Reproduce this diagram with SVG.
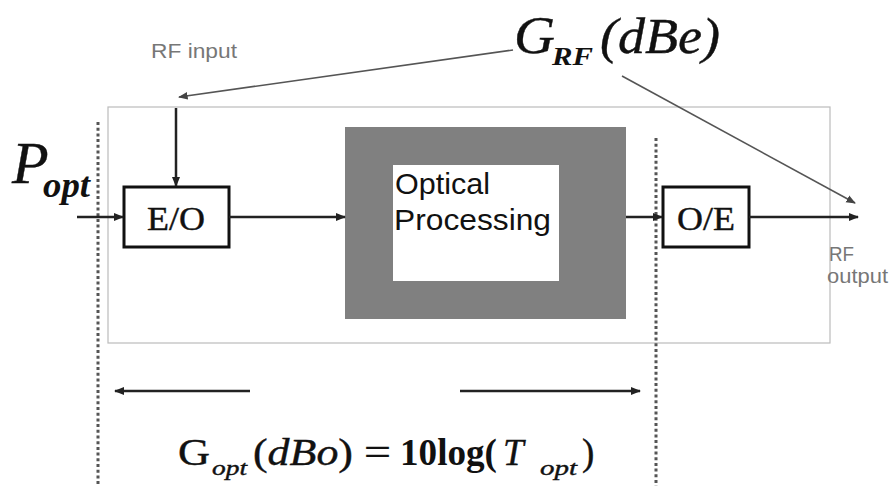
<svg xmlns="http://www.w3.org/2000/svg" width="891" height="486" viewBox="0 0 891 486">
  <style>
    .serif { font-family: "Liberation Serif", "Times New Roman", serif; fill: #111; stroke: #111; stroke-width: 0.4; }
    .serif.b { stroke: none; }
    .sans { font-family: "Liberation Sans", Arial, sans-serif; }
    .note { font-family: "Liberation Sans", Arial, sans-serif; fill: #777; font-size: 20px; }
    .box { fill: #fff; stroke: #111; stroke-width: 3; }
    .wire { fill: none; stroke: #222; stroke-width: 2.5; }
    .thin { fill: none; stroke: #555; stroke-width: 1.6; }
    .dots { fill: none; stroke: #555; stroke-width: 3; stroke-dasharray: 3 2.7; }
  </style>
  <defs>
    <marker id="head" viewBox="0 0 10 10" refX="9" refY="5" markerWidth="4" markerHeight="4" orient="auto" markerUnits="strokeWidth">
      <path d="M0,1 L10,5 L0,9 Z" fill="#222"/>
    </marker>
    <marker id="headThin" viewBox="0 0 10 10" refX="9" refY="5" markerWidth="6" markerHeight="6" orient="auto" markerUnits="strokeWidth">
      <path d="M0,1 L10,5 L0,9 Z" fill="#444"/>
    </marker>
  </defs>

  <rect width="891" height="486" fill="#fff"/>

  <!-- system boundary -->
  <rect id="boundary" x="108" y="107" width="722" height="236" fill="none" stroke="#bbb" stroke-width="1.2"/>

  <!-- optical section limits -->
  <g id="limits">
    <line class="dots" x1="98" y1="122" x2="98" y2="486"/>
    <line class="dots" x1="656" y1="138" x2="656" y2="486"/>
  </g>

  <g id="optical-processing">
    <rect x="345" y="127" width="281" height="192" fill="#808080"/>
    <rect x="393" y="165" width="166" height="116" fill="#fff"/>
    <text class="sans" x="395" y="194" font-size="30" fill="#111" textLength="95" lengthAdjust="spacingAndGlyphs">Optical</text>
    <text class="sans" x="394" y="230" font-size="30" fill="#111" textLength="157" lengthAdjust="spacingAndGlyphs">Processing</text>
  </g>

  <g id="eo">
    <rect class="box" x="124" y="187" width="105" height="60"/>
    <text class="serif" x="147" y="230" font-size="33" textLength="58" lengthAdjust="spacingAndGlyphs">E/O</text>
  </g>

  <g id="oe">
    <rect class="box" x="663" y="187" width="86" height="60"/>
    <text class="serif" x="677" y="230" font-size="33" textLength="58" lengthAdjust="spacingAndGlyphs">O/E</text>
  </g>

  <g id="connectors">
    <line class="wire" x1="77" y1="217" x2="123" y2="217" marker-end="url(#head)"/>
    <line class="wire" x1="229" y1="217" x2="345" y2="217" marker-end="url(#head)"/>
    <line class="wire" x1="626" y1="217" x2="662" y2="217" marker-end="url(#head)"/>
    <line class="wire" x1="749" y1="217" x2="858" y2="217" stroke="#333" marker-end="url(#head)"/>
    <line class="wire" x1="176" y1="108" x2="176" y2="186" marker-end="url(#head)"/>
    <line class="thin" x1="513" y1="50" x2="179" y2="97" marker-end="url(#headThin)"/>
    <line class="thin" x1="622" y1="76" x2="855" y2="203" marker-end="url(#headThin)"/>
    <line class="wire" x1="250" y1="391" x2="115" y2="391" marker-end="url(#head)"/>
    <line class="wire" x1="460" y1="391" x2="640" y2="391" marker-end="url(#head)"/>
  </g>

  <!-- labels -->
  <text class="note" x="151" y="58" textLength="86" lengthAdjust="spacingAndGlyphs">RF input</text>
  <text class="note" x="829" y="261" textLength="25" lengthAdjust="spacingAndGlyphs">RF</text>
  <text class="note" x="827" y="283" textLength="61" lengthAdjust="spacingAndGlyphs">output</text>

  <g id="p-opt">
    <text class="serif" x="12" y="183" font-size="60" font-style="italic">P</text>
    <text class="serif b" x="43" y="197" font-size="36" font-style="italic" font-weight="bold" textLength="47" lengthAdjust="spacingAndGlyphs">opt</text>
  </g>

  <g id="g-rf">
    <text class="serif" x="514" y="53" font-size="52" font-style="italic" textLength="41" lengthAdjust="spacingAndGlyphs">G</text>
    <text class="serif b" x="552" y="65" font-size="25" font-style="italic" font-weight="bold" textLength="41" lengthAdjust="spacingAndGlyphs">RF</text>
    <text class="serif" x="600" y="53" font-size="50" font-style="italic" textLength="120" lengthAdjust="spacingAndGlyphs">(dBe)</text>
  </g>

  <g id="g-opt">
    <text class="serif" x="178" y="465" font-size="37" textLength="32" lengthAdjust="spacingAndGlyphs">G</text>
    <text class="serif" x="212" y="475" font-size="21" font-style="italic" textLength="35" lengthAdjust="spacingAndGlyphs">opt</text>
    <text class="serif" x="253" y="465" font-size="37" textLength="100" lengthAdjust="spacingAndGlyphs">(<tspan font-style="italic">dBo</tspan>)</text>
    <text class="serif" x="364" y="465" font-size="37" textLength="27" lengthAdjust="spacingAndGlyphs">=</text>
    <text class="serif b" x="400" y="465" font-size="37" font-weight="bold" textLength="97" lengthAdjust="spacingAndGlyphs">10log(</text>
    <text class="serif" x="503" y="465" font-size="37" font-style="italic">T</text>
    <text class="serif" x="540" y="475" font-size="21" font-style="italic" textLength="37" lengthAdjust="spacingAndGlyphs">opt</text>
    <text class="serif" x="582" y="465" font-size="37">)</text>
  </g>
</svg>
